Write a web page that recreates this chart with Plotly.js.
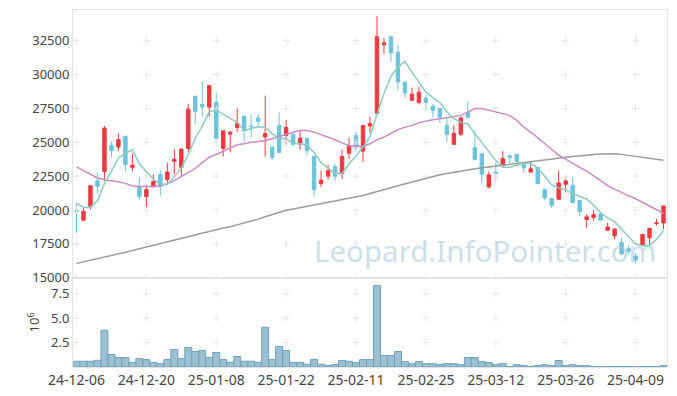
<!DOCTYPE html>
<html>
<head>
<meta charset="utf-8">
<script src="https://cdn.plot.ly/plotly-3.0.1.min.js"></script>
<style>
  html, body { margin: 0; padding: 0; background: #ffffff; }
  #chart { width: 677px; height: 396px; }
</style>
</head>
<body>
<div id="chart"></div>
<script>
const dates = [
  "24-12-06","24-12-09","24-12-10","24-12-11","24-12-12","24-12-13","24-12-16","24-12-17","24-12-18","24-12-19",
  "24-12-20","24-12-23","24-12-24","24-12-26","24-12-27","24-12-30","25-01-02","25-01-03","25-01-06","25-01-07",
  "25-01-08","25-01-09","25-01-10","25-01-13","25-01-14","25-01-15","25-01-16","25-01-17","25-01-20","25-01-21",
  "25-01-22","25-01-23","25-01-24","25-01-31","25-02-03","25-02-04","25-02-05","25-02-06","25-02-07","25-02-10",
  "25-02-11","25-02-12","25-02-13","25-02-14","25-02-17","25-02-18","25-02-19","25-02-20","25-02-21","25-02-24",
  "25-02-25","25-02-26","25-02-27","25-02-28","25-03-04","25-03-05","25-03-06","25-03-07","25-03-10","25-03-11",
  "25-03-12","25-03-13","25-03-14","25-03-17","25-03-18","25-03-19","25-03-20","25-03-21","25-03-24","25-03-25",
  "25-03-26","25-03-27","25-03-28","25-03-31","25-04-01","25-04-02","25-04-03","25-04-04","25-04-07","25-04-08",
  "25-04-09","25-04-10","25-04-11","25-04-14","25-04-15"
];

const openP = [
  20000,19250,20250,22150,22850,24750,24650,25450,23150,21700,
  21000,21750,22600,22250,23600,23150,24550,28400,27800,27600,
  27950,24550,25600,26100,26900,26200,26800,25400,24650,26250,
  25500,25600,24850,25300,23950,21950,22500,23200,22700,24200,
  25500,24350,26200,27150,32200,32800,31650,29450,28100,27950,
  28250,27650,27500,26250,24850,25600,27200,24600,24150,21700,
  22800,23300,24000,24100,23350,22800,23150,21500,20850,20800,
  21900,21800,20700,19300,19450,19700,18500,18100,17600,17150,
  16600,17450,17950,19000,19050
];
const highP = [
  20450,20150,21800,22750,26200,25050,25650,25500,24150,22400,
  21850,22650,22950,23500,24500,24500,27850,28450,29500,29200,
  28700,25850,25850,27500,27050,27050,27100,28450,24650,27200,
  26650,25600,25900,25300,23950,22900,23350,23400,24450,25350,
  25750,26250,26900,34300,32700,32800,32200,29450,29050,29100,
  28550,27850,27500,26850,26250,26900,28000,25850,24150,22850,
  23500,24350,24100,24100,23350,23600,23150,21600,20850,22900,
  22550,22450,20700,19700,20000,19850,19050,18650,17950,17400,
  16850,18200,18650,19350,20300
];
const lowP = [
  18300,19200,20050,21250,22150,23900,24350,22850,22850,20750,
  20150,21650,21050,21850,22650,22500,24300,26350,26900,26900,
  25000,23950,24250,25750,25000,25350,26100,23950,23700,24250,
  24800,24700,24450,24050,21000,21700,22250,22150,22300,23750,
  24400,23550,25700,27100,31500,30950,28850,28300,28050,27800,
  27300,26800,26450,25000,24800,25450,26700,23650,22050,21600,
  22150,23100,23450,23400,22750,22800,21950,20700,20150,20800,
  21300,20550,19550,18650,19200,19250,18450,17850,16750,16700,
  16050,17350,17400,18850,18600
];
const closeP = [
  19900,19900,21800,21750,26050,24400,25200,23350,23300,21000,
  21500,22100,21750,22800,23750,24500,27450,27300,27600,29200,
  25300,25850,25750,26400,25850,26150,26550,25650,23900,24250,
  26100,24850,25300,24400,21500,22200,22900,22500,23950,24750,
  24650,26250,26400,32800,32350,31600,29450,28650,28550,28700,
  27950,27350,26850,25600,25650,26800,26850,23750,22650,22600,
  22700,23800,23900,23600,23100,23050,21950,20900,20350,22000,
  22150,20550,19900,19500,19650,19250,18750,18600,16750,16950,
  16300,18200,18650,19050,20300
];
// volume in millions of shares
const volumeM = [
  0.59,0.59,0.59,0.69,3.76,1.28,0.97,0.97,0.48,0.86,
  0.76,0.48,0.34,0.76,1.79,0.86,2.00,1.59,1.69,0.97,
  1.48,0.76,0.48,1.07,0.59,0.59,0.48,4.07,0.76,2.10,
  1.69,0.48,0.48,0.28,0.76,0.28,0.17,0.26,0.66,0.59,
  0.45,0.76,0.76,8.34,1.17,1.17,1.59,0.55,0.34,0.55,
  0.34,0.34,0.24,0.34,0.34,0.24,0.97,0.97,0.55,0.45,
  0.24,0.34,0.05,0.24,0.14,0.05,0.14,0.24,0.14,0.66,
  0.14,0.24,0.14,0.14,0.05,0.02,0.05,0.05,0.05,0.05,
  0.02,0.05,0.05,0.05,0.14
];
const ma5 = [
  20510,20190,20220,20680,21950,22850,23860,24150,24460,23420,
  22820,22270,21930,21900,22450,23100,24100,25300,26200,27250,
  27370,27080,26770,26480,25870,26030,26150,26130,25630,25320,
  25250,24950,24900,24800,24250,23500,23100,22700,22700,23400,
  24000,24650,25400,27100,28600,29880,30540,30980,30180,29430,
  28700,28300,27930,27260,26750,26470,26360,25650,25000,24350,
  23650,23150,23150,23330,23440,23450,23100,22500,21850,21650,
  21500,21200,20990,20820,20360,19800,19420,19140,18600,18070,
  17500,17370,17370,17830,18510
];
const ma20 = [
  23190,22910,22590,22370,22240,22170,22090,21970,21770,21740,
  21740,21740,21800,21940,22170,22460,22780,23080,23500,23900,
  24100,24340,24540,24820,24890,25010,25060,25130,25260,25430,
  25580,25750,25880,25880,25750,25580,25380,25190,24960,24760,
  24710,24710,24890,25190,25390,25680,25930,26120,26250,26450,
  26570,26670,26740,26820,26860,26990,27230,27490,27490,27360,
  27230,27110,26990,26620,26120,25750,25360,24910,24470,24060,
  23760,23430,23150,22870,22540,22170,21800,21540,21280,21050,
  20830,20570,20310,20050,19760
];
const ma60 = [
  16060,16170,16280,16400,16510,16620,16750,16880,17010,17140,
  17270,17390,17520,17640,17760,17890,18030,18170,18310,18440,
  18560,18670,18770,18900,19040,19180,19330,19500,19660,19820,
  19980,20080,20180,20280,20390,20480,20570,20670,20760,20850,
  20960,21080,21220,21350,21500,21650,21800,21940,22090,22220,
  22360,22490,22610,22700,22790,22880,22960,23050,23120,23180,
  23240,23290,23350,23410,23490,23550,23610,23680,23750,23820,
  23890,23950,24010,24060,24100,24130,24150,24160,24110,24040,
  23960,23890,23810,23740,23670
];
const priceTicks = [15000, 17500, 20000, 22500, 25000, 27500, 30000, 32500];
const volTicks = [2.5, 5.0, 7.5];
const tickEvery = 10;

const idx = dates.map((d, i) => i);
const tickIdx = idx.filter(i => i % tickEvery === 0);
const tickText = tickIdx.map(i => dates[i]);

const RED = "#ec3a3f";
const CYAN = "#6cc3da";
const FONT = "Noto Sans, Open Sans, DejaVu Sans, sans-serif";

// faint crosses at the tick intersections (chart's grid marks)
const cx = [], cy = [], vx = [], vy = [];
tickIdx.forEach(t => {
  priceTicks.forEach(p => { cx.push(t); cy.push(p); });
  volTicks.forEach(v => { vx.push(t); vy.push(v); });
});

const crossMarker = { symbol: "cross-thin", size: 5, line: { color: "#e4e4e4", width: 1 } };

const traces = [
  {
    type: "scatter", mode: "markers", x: cx, y: cy, xaxis: "x", yaxis: "y",
    marker: crossMarker, hoverinfo: "skip", showlegend: false
  },
  {
    type: "scatter", mode: "markers", x: vx, y: vy, xaxis: "x2", yaxis: "y2",
    marker: crossMarker, hoverinfo: "skip", showlegend: false
  },
  {
    type: "scatter", mode: "lines", x: idx, y: ma60, xaxis: "x", yaxis: "y",
    line: { color: "#9c9c9c", width: 1.5 }, showlegend: false, hoverinfo: "skip"
  },
  {
    type: "scatter", mode: "lines", x: idx, y: ma20, xaxis: "x", yaxis: "y",
    line: { color: "#c98cc6", width: 1.5 }, showlegend: false, hoverinfo: "skip"
  },
  {
    type: "scatter", mode: "lines", x: idx, y: ma5, xaxis: "x", yaxis: "y",
    line: { color: "#8ccbc1", width: 1.5 }, showlegend: false, hoverinfo: "skip"
  },
  {
    type: "candlestick", x: idx, open: openP, high: highP, low: lowP, close: closeP,
    xaxis: "x", yaxis: "y",
    increasing: { line: { color: RED, width: 1 }, fillcolor: RED },
    decreasing: { line: { color: CYAN, width: 1 }, fillcolor: CYAN },
    whiskerwidth: 0, showlegend: false
  },
  {
    type: "bar", x: idx, y: volumeM, xaxis: "x2", yaxis: "y2",
    marker: { color: "#9ac0d1", line: { color: "#6ea2bb", width: 1 } },
    showlegend: false
  }
];

const axisCommon = {
  range: [-0.5, dates.length - 0.5],
  showgrid: false, zeroline: false,
  showline: true, linecolor: "#e3e3e3", linewidth: 1, mirror: true,
  ticks: "", tickvals: tickIdx, ticktext: tickText,
  fixedrange: true
};

const layout = {
  width: 677, height: 396,
  margin: { l: 73, r: 10, t: 10, b: 29 },
  paper_bgcolor: "#ffffff", plot_bgcolor: "#ffffff",
  font: { family: FONT, size: 13, color: "#444444" },
  showlegend: false,
  bargap: 0,
  xaxis: Object.assign({}, axisCommon, { anchor: "y", showticklabels: false, rangeslider: { visible: false } }),
  yaxis: {
    domain: [0.25, 1], range: [15000, 34770],
    tickvals: priceTicks, ticktext: priceTicks.map(String),
    showgrid: false, zeroline: false,
    showline: true, linecolor: "#e3e3e3", mirror: true, ticks: "",
    tickfont: { size: 13, color: "#444444" }
  },
  xaxis2: Object.assign({}, axisCommon, { anchor: "y2", showticklabels: true, tickfont: { size: 14, color: "#444444" } }),
  yaxis2: {
    domain: [0, 0.25], range: [0, 9.14],
    tickvals: volTicks, ticktext: volTicks.map(v => v.toFixed(1)),
    showgrid: false, zeroline: false,
    showline: true, linecolor: "#e3e3e3", mirror: true, ticks: "",
    tickfont: { size: 13, color: "#444444" },
    title: { text: "10<sup>6</sup>", font: { size: 13, color: "#444444" }, standoff: 8 }
  },
  annotations: [
    {
      text: "Leopard.InfoPointer.com", xref: "paper", yref: "paper",
      x: 0.985, y: 0.325, xanchor: "right", yanchor: "middle", showarrow: false,
      font: { family: FONT, size: 29.5, color: "rgba(170,200,218,0.6)" }
    }
  ]
};

Plotly.newPlot("chart", traces, layout, { displayModeBar: false, staticPlot: true });
</script>
</body>
</html>
